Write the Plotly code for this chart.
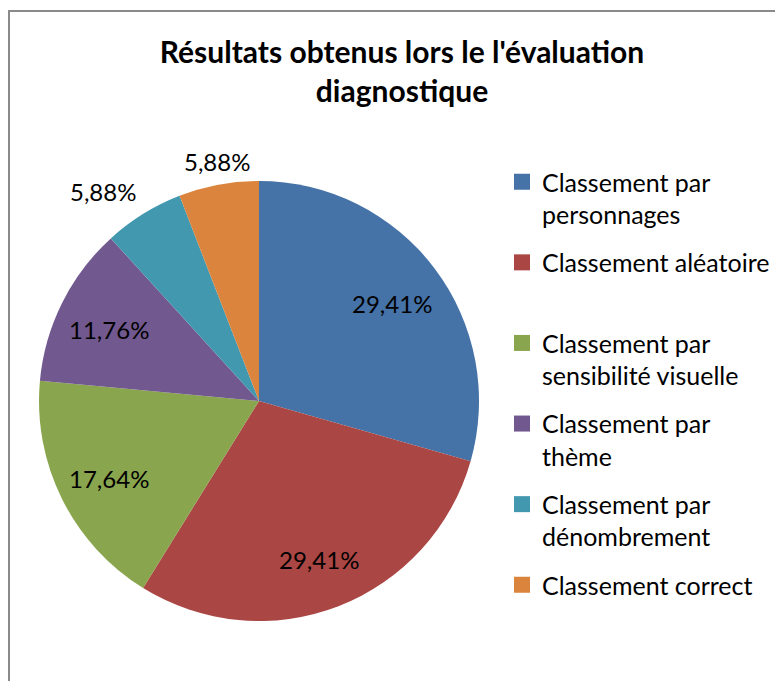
import math
import plotly.graph_objects as go

categories = [
    "Classement par<br>personnages",
    "Classement aléatoire<br>\u00a0",
    "Classement par<br>sensibilité visuelle",
    "Classement par<br>thème",
    "Classement par<br>dénombrement",
    "Classement correct",
]
values = [29.41, 29.41, 17.64, 11.76, 5.88, 5.88]
colors = ["#4572A7", "#AA4643", "#89A54E", "#71588F", "#4198AF", "#DB843D"]
label_inside = [True, True, True, True, False, False]

# figure sits inside the page body's default 8px margin
W, H = 775, 673
cx, cy, r = 251, 393, 220   # pie centre / radius in figure pixels

fig = go.Figure()
fig.add_trace(go.Pie(
    labels=categories,
    values=values,
    sort=False,
    direction="clockwise",
    rotation=0,
    marker=dict(colors=colors, line=dict(width=0)),
    textinfo="none",
    showlegend=False,
    domain=dict(x=[(cx - r) / W, (cx + r) / W], y=[(H - cy - r) / H, (H - cy + r) / H]),
    hoverinfo="label+percent",
))

# legend entries, one group each so they can be spaced like the original
for i, (name, col) in enumerate(zip(categories, colors)):
    fig.add_trace(go.Scatter(
        x=[None], y=[None], mode="markers", name=name,
        marker=dict(symbol="square", size=16, color=col, line=dict(width=0)),
        legendgroup=f"g{i}", showlegend=True, hoverinfo="skip",
    ))

# percentage labels placed along each slice's mid angle
total = sum(values)
annotations = []
cum = 0.0
for v, inside in zip(values, label_inside):
    mid = (cum + v / 2) / total * 2 * math.pi
    cum += v
    s, c = math.sin(mid), math.cos(mid)
    txt = f"{v:.2f}".replace(".", ",") + "%"
    if inside:
        d = 0.76 * r
        xa, ya = "center", "middle"
    else:
        d = r + 10
        xa = "center" if abs(s) < 0.3 else ("left" if s > 0 else "right")
        ya = "middle" if abs(c) < 0.3 else ("bottom" if c > 0 else "top")
    annotations.append(dict(
        x=(cx + d * s) / W, y=1 - (cy - d * c + 3) / H, xref="paper", yref="paper",
        text=txt, showarrow=False, xanchor=xa, yanchor=ya,
        font=dict(family="Lato", size=24, color="black"),
    ))

fig.update_layout(
    width=W, height=H,
    margin=dict(l=0, r=0, t=0, b=0),
    paper_bgcolor="white",
    plot_bgcolor="white",
    font=dict(family="Lato", color="black"),
    xaxis=dict(visible=False),
    yaxis=dict(visible=False),
    title=dict(
        text="<b>Résultats obtenus lors le l'évaluation<br>diagnostique</b>",
        x=394 / W, xanchor="center", y=1 - 55 / H, yanchor="top",
        font=dict(family="Lato", size=30, color="black"),
    ),
    showlegend=True,
    legend=dict(
        x=494 / W, xanchor="left", y=1 - 151 / H, yanchor="top",
        font=dict(family="Lato", size=25, color="black"),
        valign="top",
        tracegroupgap=12.6,
        bgcolor="rgba(0,0,0,0)",
    ),
    annotations=annotations,
    shapes=[dict(
        type="rect", xref="paper", yref="paper",
        x0=1 / W, x1=1.02, y0=-0.02, y1=1 - 3 / H,
        line=dict(color="#8a8a8a", width=2),
        fillcolor="rgba(0,0,0,0)",
    )],
)

fig.write_html("out.html")
